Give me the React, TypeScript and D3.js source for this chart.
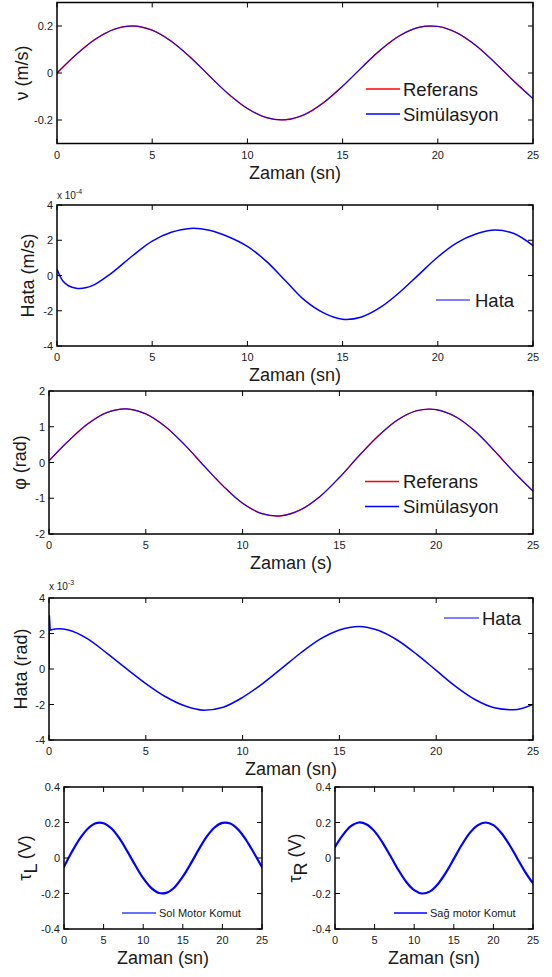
import React from 'react';
import * as d3 from 'd3';

// ---------- data ----------
const TIME = [0, 1, 2, 3, 4, 5, 6, 7, 8, 9, 10, 11, 12, 13, 14, 15, 16, 17, 18, 19, 20, 21, 22, 23, 24, 25];
const X_TICKS = [0, 5, 10, 15, 20, 25];

const V_REF = [0, 0.078, 0.143, 0.186, 0.2, 0.182, 0.135, 0.067, -0.012, -0.089, -0.151, -0.19, -0.199, -0.177, -0.126, -0.056, 0.023, 0.099, 0.159, 0.194, 0.198, 0.171, 0.117, 0.044, -0.035, -0.109];
const V_SIM = [0, 0.078, 0.143, 0.186, 0.2, 0.182, 0.135, 0.067, -0.012, -0.089, -0.151, -0.19, -0.199, -0.177, -0.126, -0.056, 0.023, 0.099, 0.159, 0.194, 0.198, 0.171, 0.117, 0.044, -0.035, -0.109];
const V_TICKS = [-0.2, 0, 0.2];

const HATA_V_TIME = [0, 0.3, 0.6, 1, 1.5, 2, 2.5, 3, 4, 5, 6, 7, 8, 9, 10, 11, 12, 13, 14, 15, 16, 17, 18, 19, 20, 21, 22, 23, 24, 25];
const HATA_V = [0.35, -0.3, -0.58, -0.72, -0.7, -0.5, -0.15, 0.25, 1.15, 1.95, 2.45, 2.67, 2.57, 2.2, 1.65, 0.8, -0.3, -1.4, -2.12, -2.48, -2.35, -1.8, -0.95, 0.05, 1.05, 1.85, 2.35, 2.58, 2.38, 1.7];
const HATA_TICKS = [-4, -2, 0, 2, 4];

const PHI_REF = [0.05, 0.6, 1.08, 1.4, 1.5, 1.36, 1.01, 0.5, -0.09, -0.66, -1.14, -1.43, -1.49, -1.32, -0.95, -0.42, 0.18, 0.74, 1.19, 1.45, 1.48, 1.28, 0.88, 0.33, -0.26, -0.8];
const PHI_SIM = [0.05, 0.6, 1.08, 1.4, 1.5, 1.36, 1.01, 0.5, -0.09, -0.66, -1.14, -1.43, -1.49, -1.32, -0.95, -0.42, 0.18, 0.74, 1.19, 1.45, 1.48, 1.28, 0.88, 0.33, -0.26, -0.8];
const PHI_TICKS = [-2, -1, 0, 1, 2];

const HATA_PHI_TIME = [0, 0.02, 0.06, 0.5, 1, 2, 3, 4, 5, 6, 7, 8, 9, 10, 11, 12, 13, 14, 15, 16, 17, 18, 19, 20, 21, 22, 23, 24, 25];
const HATA_PHI = [0, 3.0, 2.2, 2.27, 2.2, 1.7, 0.88, 0.02, -0.82, -1.55, -2.07, -2.32, -2.15, -1.6, -0.85, 0.02, 0.9, 1.68, 2.2, 2.4, 2.18, 1.62, 0.82, -0.08, -0.98, -1.72, -2.18, -2.3, -2.0];
const SPIKE_POINTS = 3; // first samples of HATA_PHI form the start-up spike

const TAU_L = [-0.05, 0.035, 0.109, 0.165, 0.196, 0.196, 0.166, 0.11, 0.037, -0.041, -0.114, -0.168, -0.197, -0.195, -0.163, -0.105, -0.032, 0.047, 0.119, 0.172, 0.198, 0.194, 0.16, 0.101, 0.027, -0.052];
const TAU_R = [0.062, 0.13, 0.179, 0.2, 0.189, 0.15, 0.087, 0.011, -0.067, -0.135, -0.181, -0.2, -0.188, -0.146, -0.082, -0.005, 0.073, 0.14, 0.184, 0.2, 0.185, 0.141, 0.076, -0.001, -0.078, -0.143];
const TAU_TICKS = [-0.4, -0.2, 0, 0.2, 0.4];

const FONT = "'Liberation Sans', Arial, Helvetica, sans-serif";
const TXT = '#1a1a1a';

type Series = { t: number[]; v: number[]; color: string; width: number; opacity?: number; curve?: any };
type LegendItem = { label: string; color: string; lx0: number; lx1: number; tx: number; y: number; size: number; lw: number };

function Panel(props: {
  x0: number; x1: number; y0: number; y1: number;
  yDomain: [number, number]; yTicks: number[];
  series: Series[]; legend: LegendItem[];
  xTitle: string; yTitle: React.ReactNode; yTitleX: number;
  exp?: { x: number; y: number; text: string };
}) {
  const { x0, x1, y0, y1, yDomain, yTicks, series, legend, xTitle, yTitle, yTitleX, exp } = props;
  const xs = d3.scaleLinear().domain([0, 25]).range([x0, x1]);
  const ys = d3.scaleLinear().domain(yDomain).range([y1, y0]);
  const TL = 5;
  const clipId = `clip-${x0}-${Math.round(y0)}`;
  return (
    <g>
      <defs>
        <clipPath id={clipId}>
          <rect x={x0} y={y0 - 2} width={x1 - x0} height={y1 - y0 + 4} />
        </clipPath>
      </defs>
      <rect x={x0} y={y0} width={x1 - x0} height={y1 - y0} fill="#fff" />
      <g clipPath={`url(#${clipId})`}>
        {series.map((s, i) => {
          const line = d3
            .line<number>()
            .x((_, j) => xs(s.t[j]))
            .y((d) => ys(d))
            .curve(s.curve || d3.curveCatmullRom.alpha(0.5));
          return (
            <path key={i} d={line(s.v) || ''} fill="none" stroke={s.color} strokeWidth={s.width} strokeOpacity={s.opacity ?? 1} strokeLinejoin="round" strokeLinecap="round" />
          );
        })}
      </g>
      {X_TICKS.map((t) => (
        <g key={'xt' + t}>
          <line x1={xs(t)} x2={xs(t)} y1={y1} y2={y1 - TL} stroke="#000" strokeWidth={1} />
          <line x1={xs(t)} x2={xs(t)} y1={y0} y2={y0 + TL} stroke="#000" strokeWidth={1} />
          <text x={xs(t)} y={y1 + 15} textAnchor="middle" fontSize={11} fontFamily={FONT} fill={TXT}>{t}</text>
        </g>
      ))}
      {yTicks.map((t) => (
        <g key={'yt' + t}>
          <line x1={x0} x2={x0 + TL} y1={ys(t)} y2={ys(t)} stroke="#000" strokeWidth={1} />
          <line x1={x1} x2={x1 - TL} y1={ys(t)} y2={ys(t)} stroke="#000" strokeWidth={1} />
          <text x={x0 - 4} y={ys(t) + 4} textAnchor="end" fontSize={11} fontFamily={FONT} fill={TXT}>{String(t)}</text>
        </g>
      ))}
      <rect x={x0} y={y0} width={x1 - x0} height={y1 - y0} fill="none" stroke="#000" strokeWidth={1.5} />
      {legend.map((l, i) => (
        <g key={'lg' + i}>
          <line x1={l.lx0} x2={l.lx1} y1={l.y} y2={l.y} stroke={l.color} strokeWidth={l.lw} />
          <text x={l.tx} y={l.y + l.size * 0.36} fontSize={l.size} fontFamily={FONT} fill={TXT}>{l.label}</text>
        </g>
      ))}
      <text x={(x0 + x1) / 2} y={y1 + 35} textAnchor="middle" fontSize={18} fontFamily={FONT} fill={TXT}>{xTitle}</text>
      <text transform={`translate(${yTitleX},${(y0 + y1) / 2}) rotate(-90)`} textAnchor="middle" fontSize={18} fontFamily={FONT} fill={TXT}>{yTitle}</text>
      {exp && (
        <text x={exp.x} y={exp.y} fontSize={10} fontFamily={FONT} fill={TXT}>
          x 10<tspan fontSize={7} dy={-5}>{exp.text}</tspan>
        </text>
      )}
    </g>
  );
}

export default function App() {
  const RED = '#ff0000';
  const BLUE = '#0000ff';
  const spikeT = HATA_PHI_TIME.slice(0, SPIKE_POINTS);
  const spikeV = HATA_PHI.slice(0, SPIKE_POINTS);
  const mainT = HATA_PHI_TIME.slice(SPIKE_POINTS - 1);
  const mainV = HATA_PHI.slice(SPIKE_POINTS - 1);
  return (
    <svg width={552} height={977} style={{ position: 'absolute', left: 0, top: 0, background: '#fff' }}>
      <rect x={0} y={0} width={552} height={977} fill="#fff" />
      <Panel
        x0={57} x1={533} y0={2.5} y1={143.5}
        yDomain={[-0.3, 0.3]} yTicks={V_TICKS}
        series={[
          { t: TIME, v: V_REF, color: RED, width: 1.3 },
          { t: TIME, v: V_SIM, color: BLUE, width: 1.1, opacity: 0.82 },
        ]}
        legend={[
          { label: 'Referans', color: RED, lx0: 366, lx1: 400, tx: 403, y: 89, size: 18.5, lw: 1.3 },
          { label: 'Simülasyon', color: BLUE, lx0: 366, lx1: 400, tx: 403, y: 114, size: 18.5, lw: 1.3 },
        ]}
        xTitle="Zaman (sn)"
        yTitle="ν (m/s)"
        yTitleX={28}
      />
      <Panel
        x0={57} x1={533} y0={205} y1={346}
        yDomain={[-4, 4]} yTicks={HATA_TICKS}
        series={[{ t: HATA_V_TIME, v: HATA_V, color: BLUE, width: 1.5 }]}
        legend={[{ label: 'Hata', color: BLUE, lx0: 436, lx1: 470, tx: 475, y: 300, size: 18.5, lw: 1.2 }]}
        xTitle="Zaman (sn)"
        yTitle="Hata (m/s)"
        yTitleX={34}
        exp={{ x: 57, y: 199, text: '-4' }}
      />
      <Panel
        x0={49} x1={533} y0={391} y1={534}
        yDomain={[-2, 2]} yTicks={PHI_TICKS}
        series={[
          { t: TIME, v: PHI_REF, color: RED, width: 1.3 },
          { t: TIME, v: PHI_SIM, color: BLUE, width: 1.1, opacity: 0.82 },
        ]}
        legend={[
          { label: 'Referans', color: RED, lx0: 365, lx1: 399, tx: 403, y: 481.5, size: 18.5, lw: 1.3 },
          { label: 'Simülasyon', color: BLUE, lx0: 365, lx1: 399, tx: 403, y: 506.5, size: 18.5, lw: 1.3 },
        ]}
        xTitle="Zaman (s)"
        yTitle="φ (rad)"
        yTitleX={26}
      />
      <Panel
        x0={49} x1={533} y0={598} y1={740}
        yDomain={[-4, 4]} yTicks={HATA_TICKS}
        series={[
          { t: spikeT, v: spikeV, color: BLUE, width: 1.5, curve: d3.curveLinear },
          { t: mainT, v: mainV, color: BLUE, width: 1.5, curve: d3.curveMonotoneX },
        ]}
        legend={[{ label: 'Hata', color: BLUE, lx0: 444, lx1: 479, tx: 482, y: 618, size: 18.5, lw: 1.2 }]}
        xTitle="Zaman (sn)"
        yTitle="Hata (rad)"
        yTitleX={27}
        exp={{ x: 49, y: 590, text: '-3' }}
      />
      <Panel
        x0={64} x1={262} y0={787} y1={929}
        yDomain={[-0.4, 0.4]} yTicks={TAU_TICKS}
        series={[{ t: TIME, v: TAU_L, color: BLUE, width: 2.2 }]}
        legend={[{ label: 'Sol Motor Komut', color: '#3344ff', lx0: 122, lx1: 156, tx: 159, y: 913, size: 11, lw: 1.5 }]}
        xTitle="Zaman (sn)"
        yTitle={<>τ<tspan dy={6}>L</tspan><tspan dy={-6}> (V)</tspan></>}
        yTitleX={31}
      />
      <Panel
        x0={335} x1={533} y0={787} y1={929}
        yDomain={[-0.4, 0.4]} yTicks={TAU_TICKS}
        series={[{ t: TIME, v: TAU_R, color: BLUE, width: 2.2 }]}
        legend={[{ label: 'Sağ motor Komut', color: BLUE, lx0: 394, lx1: 427, tx: 430, y: 913, size: 11, lw: 1.5 }]}
        xTitle="Zaman (sn)"
        yTitle={<>τ<tspan dy={6}>R</tspan><tspan dy={-6}> (V)</tspan></>}
        yTitleX={301}
      />
    </svg>
  );
}
